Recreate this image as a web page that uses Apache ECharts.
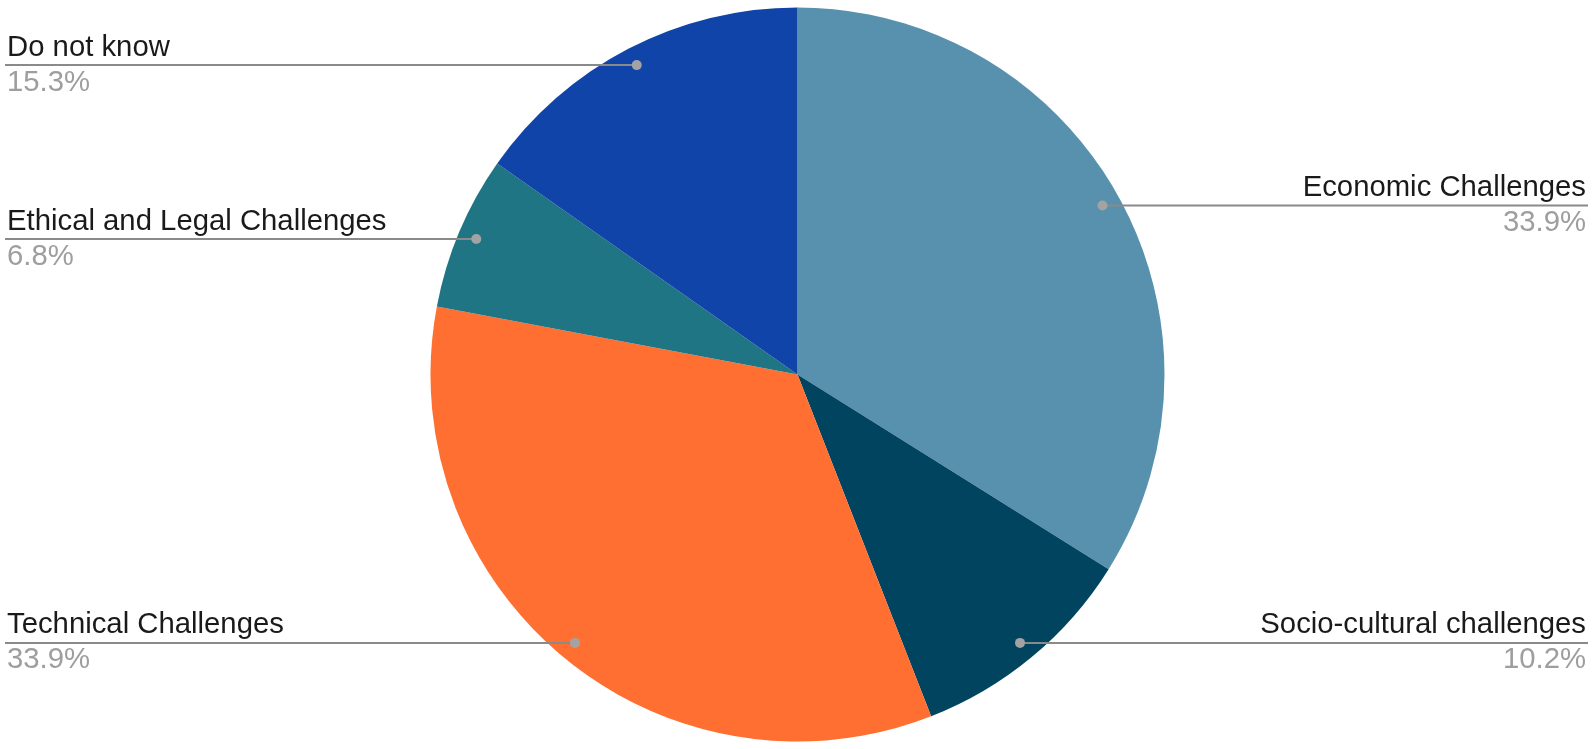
<!DOCTYPE html>
<html>
<head>
<meta charset="utf-8">
<script src="https://cdn.jsdelivr.net/npm/echarts@6/dist/echarts.min.js"></script>
<style>
  html, body { margin: 0; padding: 0; background: #ffffff; }
  #chart { width: 1595px; height: 749px; }
</style>
</head>
<body>
<div id="chart"></div>
<script>
// Data (counts of respondents; percentages shown are share of total)
const categories = [
  'Economic Challenges',
  'Socio-cultural challenges',
  'Technical Challenges',
  'Ethical and Legal Challenges',
  'Do not know'
];
const values = [20, 6, 20, 4, 9];
const colors = ['#5891ae', '#00445f', '#ff6f31', '#1f7583', '#1044a8'];
// Which side each label sits on
const labelSides = ['right', 'right', 'left', 'left', 'left'];

const total = values.reduce((a, b) => a + b, 0);
const cumulative = [];
values.reduce((acc, v, i) => { cumulative[i] = acc; return acc + v; }, 0);
const midValues = values.map((v, i) => cumulative[i] + v / 2);

const DOT_R = 0.95;   // dot position as fraction of pie radius
const PIE_R = 0.98;   // pie radius as fraction of half of min(w,h)

const chart = echarts.init(document.getElementById('chart'), null, { renderer: 'canvas' });

const FONT = '"Liberation Sans", Arial, sans-serif';
const pieData = categories.map((c, i) => ({ name: c, value: values[i], itemStyle: { color: colors[i] } }));

const option = {
  backgroundColor: '#ffffff',
  animation: false,
  polar: { center: ['50%', '50%'], radius: (PIE_R * 100) + '%' },
  angleAxis: { type: 'value', min: 0, max: total, startAngle: 90, clockwise: true, show: false },
  radiusAxis: { type: 'value', min: 0, max: 1, show: false },
  series: [
    {
      type: 'pie',
      center: ['50%', '50%'],
      radius: (PIE_R * 100) + '%',
      startAngle: 90,
      clockwise: true,
      silent: true,
      z: 1,
      itemStyle: { borderWidth: 0 },
      label: { show: false },
      labelLine: { show: false },
      data: pieData
    },
    {
      // transparent overlay pie carrying labels & leader lines above the slices
      type: 'pie',
      center: ['50%', '50%'],
      radius: (PIE_R * 100) + '%',
      startAngle: 90,
      clockwise: true,
      silent: true,
      z: 3,
      itemStyle: { color: 'rgba(0,0,0,0)', borderWidth: 0 },
      data: categories.map((c, i) => ({ name: c, value: values[i] })),
      label: {
        show: true,
        position: 'outside',
        formatter: p => '{n|' + p.name + '}\n{p|' + (p.value / total * 100).toFixed(1) + '%}',
        rich: {
          n: { fontFamily: FONT, fontSize: 29.3, color: '#1a1a1a', lineHeight: 35 },
          p: { fontFamily: FONT, fontSize: 29.3, color: '#9e9e9e', lineHeight: 35 }
        }
      },
      labelLine: {
        show: true,
        lineStyle: { color: '#8a8a8a', width: 2 }
      },
      labelLayout: function (params) {
        const i = params.dataIndex;
        const w = chart.getWidth(), h = chart.getHeight();
        const cx = w / 2, cy = h / 2;
        const R = PIE_R * Math.min(w, h) / 2;
        const ang = (midValues[i] / total) * 2 * Math.PI;
        const dx = cx + DOT_R * R * Math.sin(ang);
        const dy = cy - DOT_R * R * Math.cos(ang);
        const right = labelSides[i] === 'right';
        const edgeX = right ? w - 7 : 5;
        const textX = right ? w - 9 : 7;
        return {
          x: textX,
          y: dy,
          align: right ? 'right' : 'left',
          verticalAlign: 'middle',
          labelLinePoints: [[dx, dy], [edgeX, dy], [edgeX, dy]]
        };
      }
    },
    {
      type: 'scatter',
      coordinateSystem: 'polar',
      silent: true,
      z: 5,
      symbol: 'circle',
      symbolSize: 10,
      itemStyle: { color: '#a3a3a3', opacity: 1 },
      data: midValues.map(m => [DOT_R, m])
    }
  ]
};
chart.setOption(option);
</script>
</body>
</html>
